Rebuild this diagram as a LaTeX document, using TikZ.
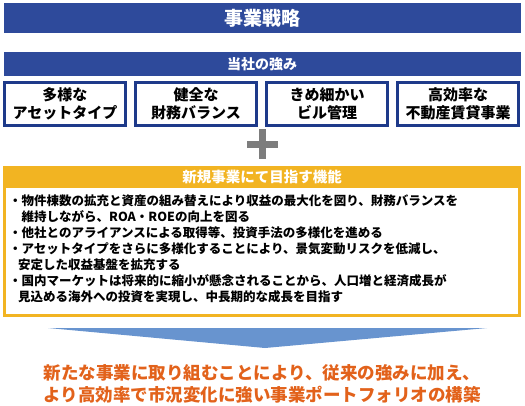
\documentclass[tikz,border=0pt]{standalone}
\usepackage{fontspec}
\setmainfont{Noto Sans CJK JP}
\usepackage{xcolor}
\definecolor{navy}{RGB}{46, 74, 155}
\definecolor{darknavy}{RGB}{30, 58, 138}
\definecolor{gold}{RGB}{242, 180, 34}
\definecolor{plusgray}{RGB}{125, 125, 125}
\definecolor{arrowblue}{RGB}{104, 148, 207}
\definecolor{resultorange}{RGB}{226, 98, 27}
\usepackage{tikz}
\usetikzlibrary{
    positioning
}
\tikzstyle{bar} = [
    rectangle,
    fill=navy,
    text=white,
    font=\bfseries,
    text centered,
    inner sep=0pt
]
\tikzstyle{strength} = [
    rectangle, draw=darknavy,
    line width=3pt,
    minimum width=121pt,
    minimum height=43pt,
    text centered,
    align=center,
    fill=white,
    inner sep=0pt,
    font=\fontsize{15}{18}\selectfont\bfseries
]
\tikzstyle{plus} = [
    line width=7pt,
    draw=plusgray
]

\begin{document}
\begin{tikzpicture}[
	x=1pt, y=-1pt
]
\useasboundingbox (0,0) rectangle (525,405);

\node (strategy) [bar, minimum width=517pt, minimum height=30pt,
    font=\fontsize{19}{22}\selectfont\bfseries] at (262,18) {事業戦略};
\node (ours) [bar, minimum width=517pt, minimum height=24pt,
    font=\fontsize{14}{16}\selectfont\bfseries] at (262,64) {当社の強み};

\node (asset) [strength] at (65,104) {多様な\\アセットタイプ};
\node (finance) [strength, right=7pt of asset] {健全な\\財務バランス};
\node (building) [strength, right=7pt of finance] {きめ細かい\\ビル管理};
\node (leasing) [strength, right=7pt of building] {高効率な\\不動産賃貸事業};

% plus
\draw [plus] (247,144) -- (278,144) (262.5,129) -- (262.5,159);

\node (newbiz) [rectangle, draw=gold, line width=2.5pt, minimum width=515pt,
    minimum height=148pt, inner sep=0pt] at (262,241.5) {};
\node (header) [rectangle, fill=gold, text=white, minimum width=518pt,
    minimum height=22pt, inner sep=0pt,
    font=\fontsize{14.5}{16}\selectfont\bfseries] at (262,177) {新規事業にて目指す機能};
\node (aims) [anchor=north west, align=left, inner sep=0pt,
    font=\fontsize{12.5}{16}\selectfont\bfseries] at (9,194.5)
    {・物件棟数の拡充と資産の組み替えにより収益の最大化を図り、財務バランスを\\
     \hspace*{12.5pt}維持しながら、ROA・ROEの向上を図る\\
     ・他社とのアライアンスによる取得等、投資手法の多様化を進める\\
     ・アセットタイプをさらに多様化することにより、景気変動リスクを低減し、\\
     \hspace*{9pt}安定した収益基盤を拡充する\\
     ・国内マーケットは将来的に縮小が懸念されることから、人口増と経済成長が\\
     \hspace*{9pt}見込める海外への投資を実現し、中長期的な成長を目指す};

% arrow down
\coordinate (arrowL) at (48,328);
\coordinate (arrowR) at (487,328);
\coordinate (arrowT) at (265,348);
\fill [arrowblue] (arrowL) -- (arrowR) -- (arrowT) -- cycle;

\node (result) [align=center, text=resultorange, inner sep=0pt,
    font=\fontsize{17.5}{22}\selectfont\bfseries] at (262,384)
    {新たな事業に取り組むことにより、従来の強みに加え、\\
     より高効率で市況変化に強い事業ポートフォリオの構築};

\end{tikzpicture}
\end{document}
